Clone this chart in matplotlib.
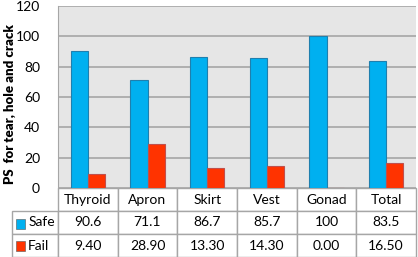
import matplotlib.pyplot as plt
from matplotlib.patches import Rectangle
import numpy as np

categories = ['Thyroid', 'Apron', 'Skirt', 'Vest', 'Gonad', 'Total']
safe = [90.6, 71.1, 86.7, 85.7, 100, 83.5]
fail = [9.40, 28.90, 13.30, 14.30, 0.00, 16.50]
safe_text = ['90.6', '71.1', '86.7', '85.7', '100', '83.5']
fail_text = ['9.40', '28.90', '13.30', '14.30', '0.00', '16.50']

blue = '#00b0f0'
red = '#ff3300'
grid_col = '#a6a6a6'

plt.rcParams['font.family'] = ['Lato', 'DejaVu Sans']

fig = plt.figure(figsize=(4.18, 2.57), dpi=100)
ax = fig.add_axes([58 / 418, 1 - 188 / 257, 358 / 418, 182 / 257])
ax.set_facecolor('#e6e6e6')

x = np.arange(len(categories))
w = 0.29
ax.bar(x - w / 2, safe, w, color=blue, edgecolor='#1f7fae', linewidth=0.8, zorder=3)
ax.bar(x + w / 2, fail, w, color=red, edgecolor='#c0504d', linewidth=0.8, zorder=3)

ax.set_xlim(-0.5, len(categories) - 0.5)
ax.set_ylim(0, 120)
ax.set_yticks(range(0, 121, 20))
ax.yaxis.grid(True, color=grid_col, linewidth=1.2, zorder=0)
ax.tick_params(axis='y', length=0, labelsize=10, pad=13)
ax.set_xticks([])
for s in ['top', 'right', 'bottom']:
    ax.spines[s].set_visible(False)
ax.spines['left'].set_color(grid_col)
ax.set_ylabel('PS  for tear, hole and crack', fontsize=9.5, fontweight='heavy')
ax.yaxis.set_label_coords(-42 / 358, 0.46)

# data table under the chart
cells = [[''] + categories, ['Safe'] + safe_text, ['Fail'] + fail_text]
tab = ax.table(cellText=cells, cellLoc='center',
               colWidths=[46] + [358 / 6] * 6,
               bbox=[-46 / 358, -69 / 182, 404 / 358, 69 / 182])
tab.auto_set_font_size(False)
tab.set_fontsize(10)
for (r, c), cell in tab.get_celld().items():
    cell.set_edgecolor(grid_col)
    cell.set_linewidth(1.0)
    if r == 0 and c == 0:
        cell.set_edgecolor('none')
    if c == 0 and r > 0:
        cell.get_text().set_ha('left')
        cell.PAD = 0.35

# legend keys in row label cells
for y0, col in [(28, blue), (6, red)]:
    fig.patches.append(Rectangle((16 / 418, y0 / 257), 9 / 418, 10 / 257,
                                 transform=fig.transFigure, facecolor=col,
                                 edgecolor='#555555', linewidth=0.4))

plt.savefig('out.png', dpi=100)
